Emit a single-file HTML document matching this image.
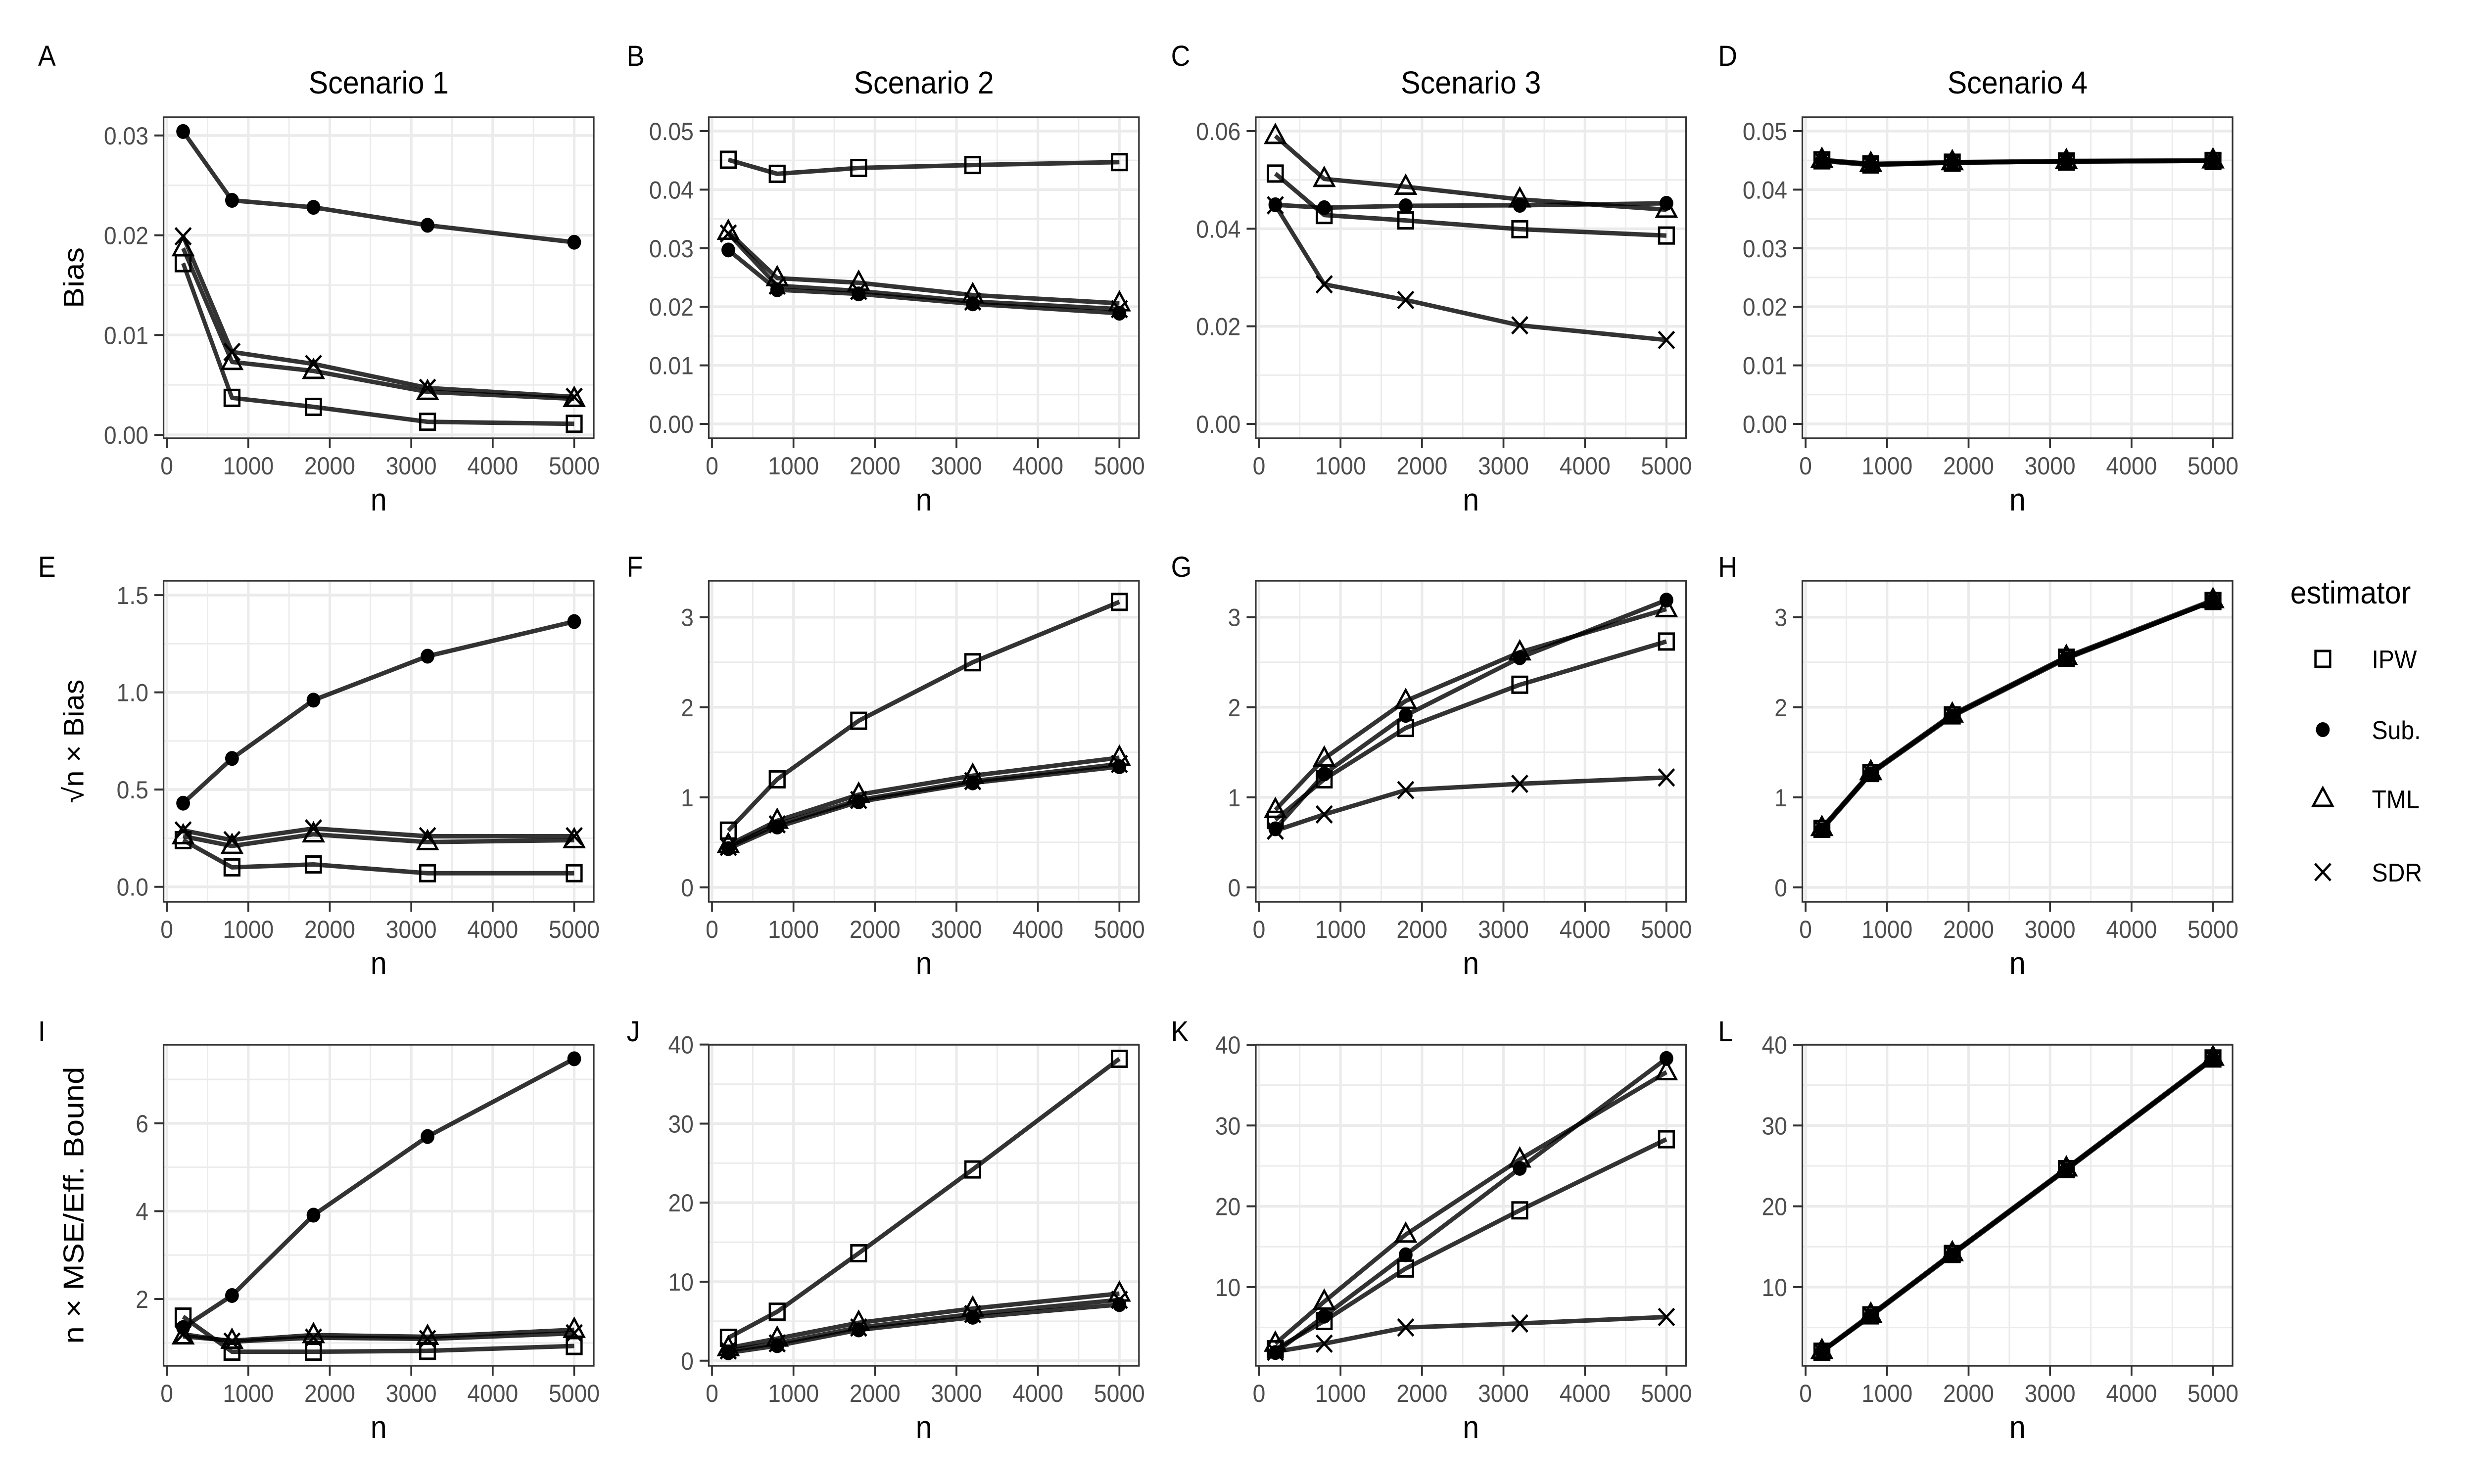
<!DOCTYPE html>
<html><head><meta charset="utf-8"><style>
html,body{margin:0;padding:0;background:#fff;overflow:hidden;width:100vw;height:100vh;}
svg{display:block;font-family:"Liberation Sans",sans-serif;width:100vw;height:100vh;}
</style></head><body>
<svg id="fig" viewBox="0 0 5400 3000" preserveAspectRatio="none" xmlns="http://www.w3.org/2000/svg">
<rect width="5400" height="3000" fill="#fff"/>
</svg>
<script>
const nValues=[200,800,1800,3200,5000];
const estimators=["IPW","Sub.","TML","SDR"];
const xTicks=[0,1000,2000,3000,4000,5000];
const xTickLabels=["0","1000","2000","3000","4000","5000"];
const xMinor=[500,1500,2500,3500,4500];
const scenarioTitles=["Scenario 1","Scenario 2","Scenario 3","Scenario 4"];
const rowTitles=["Bias","\u221An \u00D7 Bias","n \u00D7 MSE/Eff. Bound"];
const panelLetters=["A","B","C","D","E","F","G","H","I","J","K","L"];

const a_IPW=[0.0172,0.0037,0.0028,0.0013,0.0011];
const a_Sub=[0.0304,0.0235,0.0228,0.0210,0.0193];
const a_TML=[0.0187,0.0073,0.0064,0.0043,0.0036];
const a_SDR=[0.0199,0.0083,0.0071,0.0047,0.0038];
const b_IPW=[0.0451,0.0427,0.0437,0.0442,0.0447];
const b_Sub=[0.0297,0.0229,0.0222,0.0205,0.0189];
const b_TML=[0.0328,0.0249,0.0241,0.0220,0.0206];
const b_SDR=[0.0325,0.0236,0.0227,0.0209,0.0196];
const c_IPW=[0.0513,0.0428,0.0417,0.0399,0.0386];
const c_Sub=[0.0449,0.0443,0.0447,0.0448,0.0452];
const c_TML=[0.0590,0.0502,0.0486,0.0460,0.0439];
const c_SDR=[0.0448,0.0286,0.0254,0.0202,0.0172];
const d_IPW=[0.0450,0.0443,0.0446,0.0448,0.0449];
const d_Sub=[0.0449,0.0442,0.0446,0.0448,0.0449];
const d_TML=[0.0451,0.0444,0.0447,0.0449,0.0450];
const d_SDR=[0.0450,0.0443,0.0446,0.0448,0.0449];
const e_IPW=[0.24,0.10,0.115,0.07,0.07];
const e_Sub=[0.43,0.66,0.96,1.186,1.364];
const e_TML=[0.26,0.21,0.27,0.23,0.24];
const e_SDR=[0.29,0.24,0.30,0.26,0.26];
const f_IPW=[0.63,1.20,1.85,2.50,3.17];
const f_Sub=[0.43,0.67,0.95,1.16,1.34];
const f_TML=[0.47,0.74,1.03,1.24,1.44];
const f_SDR=[0.45,0.70,0.97,1.18,1.37];
const g_IPW=[0.75,1.20,1.77,2.25,2.73];
const g_Sub=[0.65,1.26,1.91,2.55,3.19];
const g_TML=[0.86,1.43,2.07,2.61,3.09];
const g_SDR=[0.63,0.81,1.08,1.15,1.22];
const h_IPW=[0.65,1.27,1.91,2.55,3.18];
const h_Sub=[0.64,1.26,1.90,2.54,3.18];
const h_TML=[0.66,1.28,1.92,2.56,3.19];
const h_SDR=[0.65,1.27,1.91,2.55,3.18];
const i_IPW=[1.60,0.80,0.80,0.82,0.93];
const i_Sub=[1.35,2.08,3.91,5.70,7.47];
const i_TML=[1.15,1.05,1.18,1.14,1.30];
const i_SDR=[1.20,1.03,1.12,1.09,1.22];
const j_IPW=[2.9,6.2,13.6,24.2,38.2];
const j_Sub=[1.0,1.9,3.9,5.5,7.1];
const j_TML=[1.6,2.8,4.8,6.6,8.5];
const j_SDR=[1.3,2.2,4.2,5.9,7.7];
const k_IPW=[2.3,5.8,12.3,19.5,28.3];
const k_Sub=[1.9,6.4,14.0,24.7,38.3];
const k_TML=[3.0,8.2,16.5,25.8,36.6];
const k_SDR=[2.0,3.0,5.0,5.5,6.3];
const l_IPW=[2.0,6.5,14.1,24.6,38.3];
const l_Sub=[2.0,6.4,14.0,24.5,38.2];
const l_TML=[2.1,6.6,14.2,24.7,38.4];
const l_SDR=[2.0,6.5,14.1,24.6,38.3];

const yTicksBias1=[0,0.01,0.02,0.03];
const yLabelsBias1=["0.00","0.01","0.02","0.03"];
const yTicksBias2=[0,0.01,0.02,0.03,0.04,0.05];
const yLabelsBias2=["0.00","0.01","0.02","0.03","0.04","0.05"];
const yTicksBias3=[0,0.02,0.04,0.06];
const yLabelsBias3=["0.00","0.02","0.04","0.06"];
const yTicksRoot1=[0,0.5,1.0,1.5];
const yLabelsRoot1=["0.0","0.5","1.0","1.5"];
const yTicksRoot2=[0,1,2,3];
const yLabelsRoot2=["0","1","2","3"];
const yTicksMse1=[2,4,6];
const yLabelsMse1=["2","4","6"];
const yTicksMse2=[0,10,20,30,40];
const yLabelsMse2=["0","10","20","30","40"];
const yTicksMse3=[10,20,30,40];
const yLabelsMse3=["10","20","30","40"];

const colLeft=[357,1547,2741,3934], rowTop=[237,1174,2112], PW=939, PH=649;
const xDom=[-40,5240];
const panels=[
 {s:[a_IPW,a_Sub,a_TML,a_SDR],dom:[-0.00035,0.03183],t:yTicksBias1,l:yLabelsBias1,step:0.01},
 {s:[b_IPW,b_Sub,b_TML,b_SDR],dom:[-0.00245,0.05236],t:yTicksBias2,l:yLabelsBias2,step:0.01},
 {s:[c_IPW,c_Sub,c_TML,c_SDR],dom:[-0.00294,0.06284],t:yTicksBias3,l:yLabelsBias3,step:0.02},
 {s:[d_IPW,d_Sub,d_TML,d_SDR],dom:[-0.00245,0.05236],t:yTicksBias2,l:yLabelsBias2,step:0.01},
 {s:[e_IPW,e_Sub,e_TML,e_SDR],dom:[-0.077,1.574],t:yTicksRoot1,l:yLabelsRoot1,step:0.5},
 {s:[f_IPW,f_Sub,f_TML,f_SDR],dom:[-0.16,3.405],t:yTicksRoot2,l:yLabelsRoot2,step:1},
 {s:[g_IPW,g_Sub,g_TML,g_SDR],dom:[-0.16,3.405],t:yTicksRoot2,l:yLabelsRoot2,step:1},
 {s:[h_IPW,h_Sub,h_TML,h_SDR],dom:[-0.16,3.405],t:yTicksRoot2,l:yLabelsRoot2,step:1},
 {s:[i_IPW,i_Sub,i_TML,i_SDR],dom:[0.48,7.79],t:yTicksMse1,l:yLabelsMse1,step:2},
 {s:[j_IPW,j_Sub,j_TML,j_SDR],dom:[-0.64,39.98],t:yTicksMse2,l:yLabelsMse2,step:10},
 {s:[k_IPW,k_Sub,k_TML,k_SDR],dom:[0.26,40.0],t:yTicksMse3,l:yLabelsMse3,step:10},
 {s:[l_IPW,l_Sub,l_TML,l_SDR],dom:[0.26,40.0],t:yTicksMse3,l:yLabelsMse3,step:10}
];
const letterX=[83,1368,2556,3750], letterBase=[133,1166,2105];

const svg=document.getElementById('fig');
const NS='http://www.w3.org/2000/svg';
function mk(tag,attrs,parent){const e=document.createElementNS(NS,tag);for(const k in attrs)e.setAttribute(k,attrs[k]);(parent||svg).appendChild(e);return e;}

function marker(g,shape,cx,cy){
 let m;
 if(shape===0){m=mk('rect',{x:cx-16,y:cy-16,width:32,height:32,fill:'none',stroke:'#000','stroke-width':5},g);}
 else if(shape===1){m=mk('circle',{cx:cx,cy:cy,r:15,fill:'#000'},g);}
 else if(shape===2){m=mk('path',{d:`M${cx},${cy-22}L${cx+21},${cy+14}L${cx-21},${cy+14}Z`,fill:'none',stroke:'#000','stroke-width':5,'stroke-linejoin':'miter'},g);}
 else {m=mk('path',{d:`M${cx-17},${cy-17}L${cx+17},${cy+17}M${cx+17},${cy-17}L${cx-17},${cy+17}`,fill:'none',stroke:'#000','stroke-width':5},g);}
 return m;
}

panels.forEach((p,pi)=>{
 const col=pi%4,row=Math.floor(pi/4);
 const L=colLeft[col],T=rowTop[row],R=L+PW,B=T+PH;
 const xs=v=>L+(v-xDom[0])/(xDom[1]-xDom[0])*PW;
 const ys=v=>B-(v-p.dom[0])/(p.dom[1]-p.dom[0])*PH;
 const g=mk('g',{});
 
 
 xMinor.forEach(v=>{const ln=mk('line',{x1:xs(v),x2:xs(v),y1:T,y2:B,stroke:'#ebebeb','stroke-width':3},g);
  
  });
 const ymin=[];
 for(let k=0;k<p.t.length+1;k++){const v=(p.t[0]-p.step/2)+k*p.step;ymin.push(v);}
 ymin.forEach(v=>{const yy=ys(v);if(yy>T&&yy<B){const ln=mk('line',{x1:L,x2:R,y1:yy,y2:yy,stroke:'#ebebeb','stroke-width':3},g);
  
  }});
 xTicks.forEach(v=>{const ln=mk('line',{x1:xs(v),x2:xs(v),y1:T,y2:B,stroke:'#ebebeb','stroke-width':5.5},g);
  
  });
 p.t.forEach(v=>{const ln=mk('line',{x1:L,x2:R,y1:ys(v),y2:ys(v),stroke:'#ebebeb','stroke-width':5.5},g);
  
  });
 p.s.forEach((arr,si)=>{
  const d=arr.map((v,i)=>(i?'L':'M')+xs(nValues[i]).toFixed(1)+','+ys(v).toFixed(1)).join('');
  const pl=mk('path',{d:d,fill:'none',stroke:'#000','stroke-opacity':0.8,'stroke-width':9,'stroke-linejoin':'round'},g);
  
  
 });
 p.s.forEach((arr,si)=>{
  arr.forEach((v,i)=>{
   const m=marker(g,si,xs(nValues[i]),ys(v));
   
   
  });
 });
 const bd=mk('rect',{x:L,y:T,width:PW,height:PH,fill:'none',stroke:'#333','stroke-width':3.5},g);
 
 
 p.t.forEach((v,k)=>{
  const tk=mk('line',{x1:L-20,x2:L,y1:ys(v),y2:ys(v),stroke:'#333','stroke-width':4},g);
  
  
  const tx=mk('text',{x:L-33,y:ys(v)+18,'text-anchor':'end','font-size':50,fill:'#4d4d4d'},g);
  tx.textContent=p.l[k];
  
  
 });
 xTicks.forEach((v,k)=>{
  const tk=mk('line',{x1:xs(v),x2:xs(v),y1:B,y2:B+20,stroke:'#333','stroke-width':4},g);
  
  
  const tx=mk('text',{x:xs(v),y:B+73,'text-anchor':'middle','font-size':50,fill:'#4d4d4d'},g);
  tx.textContent=xTickLabels[k];
  
  
 });
 const xt=mk('text',{x:(L+R)/2,y:B+146,'text-anchor':'middle','font-size':64,fill:'#000'},g);
 xt.textContent='n';
 
 
 const lt=mk('text',{x:letterX[col],y:letterBase[row],'font-size':58,fill:'#000'},g);
 lt.textContent=panelLetters[pi];
 
 
 if(row===0){
  const st=mk('text',{x:(L+R)/2,y:189,'text-anchor':'middle','font-size':64,fill:'#000'},g);
  st.textContent=scenarioTitles[col];
  
  
 }
 if(col===0){
  const cy=(T+B)/2;
  const lens=[123,250,560];
  const yt=mk('text',{x:0,y:0,'text-anchor':'middle','font-size':62,fill:'#000',transform:`translate(182,${cy}) rotate(-90)`,textLength:lens[row],lengthAdjust:'spacingAndGlyphs'},g);
  yt.textContent=rowTitles[row];
  
  
 }
});

const lg=mk('g',{});


const ltitle=mk('text',{x:4999,y:1220,'font-size':64,fill:'#000'},lg);
ltitle.textContent='estimator';


const keyY=[1332,1475,1615,1763];
estimators.forEach((e,i)=>{
 const m=marker(lg,i,5070,keyY[i]);
 
 
 const t=mk('text',{x:5177,y:keyY[i]+19,'font-size':52,fill:'#000'},lg);
 t.textContent=e;
 
 
});
</script>
</body></html>
